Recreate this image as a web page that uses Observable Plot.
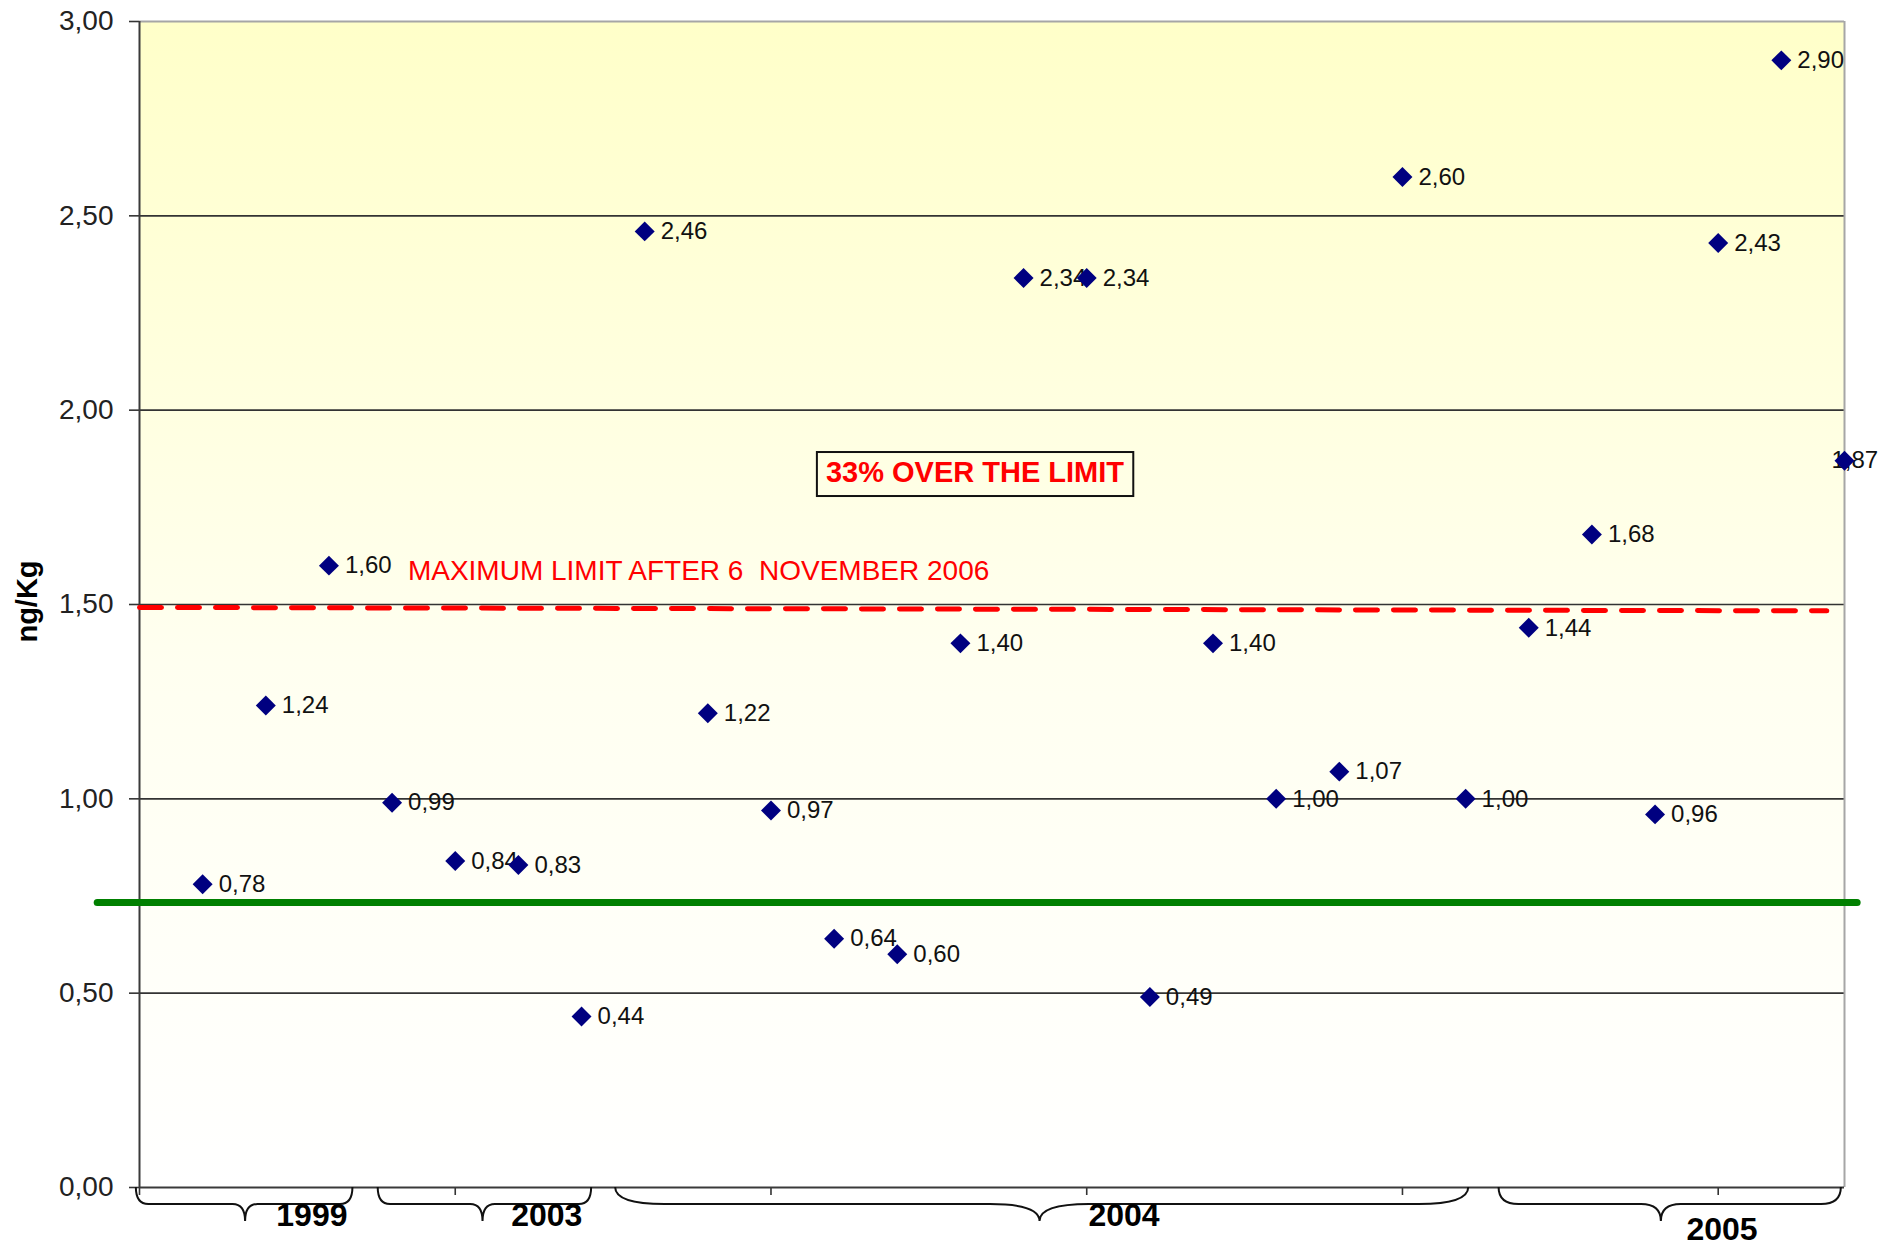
<!DOCTYPE html>
<html>
<head>
<meta charset="utf-8">
<script src="https://cdn.jsdelivr.net/npm/d3@7"></script>
<script src="https://cdn.jsdelivr.net/npm/@observablehq/plot@0.6"></script>
<style>
  html, body { margin: 0; padding: 0; background: #ffffff; }
  #chart svg { display: block; }
</style>
</head>
<body>
<div id="chart"></div>
<script>
// ---------- data ----------
const sampleIndex = [1, 2, 3, 4, 5, 6, 7, 8, 9, 10, 11, 12, 13, 14, 15, 16, 17, 18, 19, 20, 21, 22, 23, 24, 25, 26, 27];
const values = [0.78, 1.24, 1.60, 0.99, 0.84, 0.83, 0.44, 2.46, 1.22, 0.97, 0.64, 0.60, 1.40, 2.34, 2.34, 0.49, 1.40, 1.00, 1.07, 2.60, 1.00, 1.44, 1.68, 0.96, 2.43, 2.90, 1.87];
const yTicks = [0, 0.5, 1, 1.5, 2, 2.5, 3];
const gridValues = [0.5, 1, 1.5, 2, 2.5];
const xTicks = [0, 5, 10, 15, 20, 25];
const xDomain = [0, 27];
const yDomain = [0, 3];

const yearNames = ["1999", "2003", "2004", "2005"];
const braceStart = [-0.05, 3.78, 7.54, 21.53];
const braceEnd = [3.38, 7.16, 21.05, 26.95];
const braceTip = [1.68, 5.44, 14.26, 24.10];
const yearLabelX = [2.73, 6.45, 15.59, 25.06];

const limitX = [0, 26.72];
const limitY = [1.4925, 1.4836];
const limitText = "MAXIMUM LIMIT AFTER 6  NOVEMBER 2006";
const limitTextPos = [4.25, 1.587];

const overText = "33% OVER THE LIMIT";
const overTextPos = [13.23, 1.839];

const greenX = [-0.67, 27.2];
const greenLevel = 0.733;

const yTitle = "ng/Kg";

// ---------- tables built from the arrays ----------
const points = sampleIndex.map((i, k) => ({i, v: values[k]}));
const braces = yearNames.map((name, k) => ({name, x0: braceStart[k], x1: braceEnd[k], tip: braceTip[k], lx: yearLabelX[k]}));
const limitLine = limitX.map((x, k) => ({x, y: limitY[k]}));
const greenLine = greenX.map(x => ({x, y: greenLevel}));

const fmt = d => d.toFixed(2).replace(".", ",");
const REG = "'Liberation Sans', Arial, sans-serif";

// brace mark (drawn through the x scale)
function braceMark(index, scales, vals, dims) {
  const g = d3.create("svg:g");
  const y0 = dims.height - dims.marginBottom;
  const h = 17, tipD = 34;
  for (const b of braces) {
    const xs = scales.x(b.x0), xe = scales.x(b.x1), xt = scales.x(b.tip);
    const c = Math.max(10, 0.058 * (xe - xs));
    const p = d3.path();
    p.moveTo(xs, y0);
    p.quadraticCurveTo(xs, y0 + h, xs + c, y0 + h);
    p.lineTo(xt - c, y0 + h);
    p.quadraticCurveTo(xt, y0 + h, xt, y0 + tipD);
    p.quadraticCurveTo(xt, y0 + h, xt + c, y0 + h);
    p.lineTo(xe - c, y0 + h);
    p.quadraticCurveTo(xe, y0 + h, xe, y0);
    g.append("path").attr("d", p.toString()).attr("fill", "none").attr("stroke", "#111").attr("stroke-width", 2);
  }
  return g.node();
}

const plot = Plot.plot({
  width: 1890,
  height: 1246,
  marginLeft: 139,
  marginRight: 46,
  marginTop: 21,
  marginBottom: 59,
  x: {domain: xDomain},
  y: {domain: yDomain},
  style: {fontFamily: REG, background: "transparent", overflow: "visible"},
  marks: [
    Plot.frame({fill: "url(#bgGrad)", stroke: "none"}),
    Plot.ruleY(gridValues, {stroke: "#333", strokeWidth: 1.6}),
    Plot.ruleY([yDomain[1]], {stroke: "#a6a6a6", strokeWidth: 2}),
    Plot.ruleX([xDomain[1]], {stroke: "#a6a6a6", strokeWidth: 2}),
    Plot.axisY({ticks: yTicks, tickFormat: fmt, tickSize: 10, tickPadding: 16, fontSize: 28, label: null, fill: "#222", stroke: "#333", strokeWidth: 1.6}),
    Plot.axisX({ticks: xTicks, tickFormat: () => "", tickSize: 8, label: null, stroke: "#333", strokeWidth: 1.6}),
    Plot.ruleX([xDomain[0]], {stroke: "#3a3a3a", strokeWidth: 2}),
    Plot.ruleY([yDomain[0]], {stroke: "#3a3a3a", strokeWidth: 2}),
    braceMark,
    Plot.text(braces, {x: "lx", y: () => 0, text: "name", fontSize: 32, fontWeight: "bold", fill: "#000", filter: d => d.name !== "2005", dy: 28}),
    Plot.text(braces, {x: "lx", y: () => 0, text: "name", fontSize: 32, fontWeight: "bold", fill: "#000", filter: d => d.name === "2005", dy: 42}),
    Plot.line(greenLine, {x: "x", y: "y", stroke: "#008000", strokeWidth: 7}),
    Plot.line(limitLine, {x: "x", y: "y", stroke: "#ff0000", strokeWidth: 5, strokeDasharray: "22,16"}),
    Plot.text([limitText], {x: () => limitTextPos[0], y: () => limitTextPos[1], text: d => d, textAnchor: "start", fontSize: 28, fill: "#ff0000"}),
    Plot.text([overText], {x: () => overTextPos[0], y: () => overTextPos[1], text: d => d, fontSize: 29, fontWeight: "bold", fill: "#ff0000", className: "over-box"}),
    Plot.text(points, {x: "i", y: "v", text: d => fmt(d.v), filter: d => d.i < xDomain[1], textAnchor: "start", dx: 16, fontSize: 24, fill: "#111"}),
    Plot.text(points, {x: "i", y: "v", text: d => fmt(d.v), filter: d => d.i >= xDomain[1], textAnchor: "start", dx: -13, fontSize: 24, fill: "#111"}),
    Plot.dot(points, {x: "i", y: "v", symbol: "diamond2", r: 9, fill: "#000080", stroke: "none"}),
    Plot.text([yTitle], {frameAnchor: "left", textAnchor: "middle", text: d => d, rotate: -90, dx: -112, dy: -3, fontSize: 29, fontWeight: "bold", fill: "#000"})
  ]
});

document.getElementById("chart").appendChild(plot);

// gradient background definition
const svg = d3.select(plot);
const defs = svg.insert("defs", ":first-child");
const grad = defs.append("linearGradient").attr("id", "bgGrad").attr("x1", 0).attr("y1", 0).attr("x2", 0).attr("y2", 1);
grad.append("stop").attr("offset", "0%").attr("stop-color", "#ffffc9");
grad.append("stop").attr("offset", "55%").attr("stop-color", "#fffff0");
grad.append("stop").attr("offset", "100%").attr("stop-color", "#ffffff");

// box around the "33% OVER THE LIMIT" note
const boxG = svg.select("g.over-box");
if (!boxG.empty()) {
  const bb = boxG.node().getBBox();
  boxG.insert("rect", ":first-child")
    .attr("x", bb.x - 9).attr("y", bb.y - 4)
    .attr("width", bb.width + 18).attr("height", bb.height + 12)
    .attr("fill", "none").attr("stroke", "#111").attr("stroke-width", 2);
}
</script>
</body>
</html>
